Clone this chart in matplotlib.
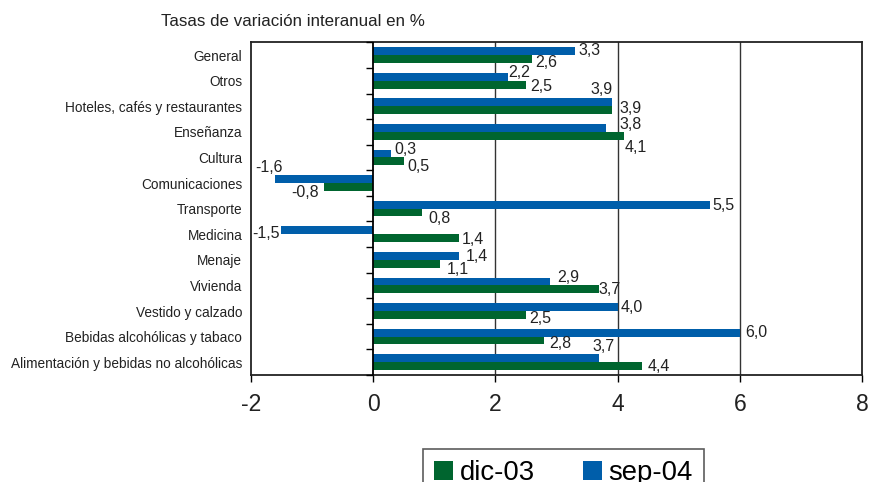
import numpy as np
import matplotlib
matplotlib.use("Agg")
import matplotlib.pyplot as plt
from matplotlib.patches import Patch

plt.rcParams["font.family"] = ["Liberation Sans", "DejaVu Sans"]

categorias = [
    "General",
    "Otros",
    "Hoteles, cafés y restaurantes",
    "Enseñanza",
    "Cultura",
    "Comunicaciones",
    "Transporte",
    "Medicina",
    "Menaje",
    "Vivienda",
    "Vestido y calzado",
    "Bebidas alcohólicas y tabaco",
    "Alimentación y bebidas no alcohólicas",
]
dic_03 = [2.6, 2.5, 3.9, 4.1, 0.5, -0.8, 0.8, 1.4, 1.1, 3.7, 2.5, 2.8, 4.4]
sep_04 = [3.3, 2.2, 3.9, 3.8, 0.3, -1.6, 5.5, -1.5, 1.4, 2.9, 4.0, 6.0, 3.7]
x_ticks = [-2, 0, 2, 4, 6, 8]

VERDE = "#00652F"
AZUL = "#005EAA"

# desplazamiento de cada etiqueta (pixeles, dx, dy, alineacion) como en el original
pos_sep = [(4, 1, "left"), (1, 4, "left"), (1, 13, "right"), (14, 3, "left"),
           (3, 4, "left"), (8, 12, "right"), (3, -1, "left"), (-2, -3, "right"),
           (7, -1, "left"), (7, 4, "left"), (3, 0, "left"), (5, 0, "left"),
           (-7, 12, "left")]
pos_dic = [(3, -3, "left"), (4, -2, "left"), (8, 2, "left"), (1, -12, "left"),
           (4, -5, "left"), (-5, -6, "right"), (6, -6, "left"), (3, -1, "left"),
           (6, -6, "left"), (-1, 0, "left"), (3, -4, "left"), (5, -3, "left"),
           (5, 0, "left")]


def fmt(v):
    return f"{v:.1f}".replace(".", ",")


fig = plt.figure(figsize=(8.69, 4.82), dpi=100)
ax = fig.add_axes([0.2885, 0.222, 0.704, 0.6902])

y = np.arange(len(categorias))
h = 0.305
ax.barh(y - h / 2, sep_04, height=h, color=AZUL, zorder=3)
ax.barh(y + h / 2, dic_03, height=h, color=VERDE, zorder=3)

for yi, v, (dx, dy, ha) in zip(y, sep_04, pos_sep):
    ax.annotate(fmt(v), (v, yi - h / 2), xytext=(dx, dy), textcoords="offset pixels",
                ha=ha, va="center", fontsize=11.5, color="#222222", zorder=4)
for yi, v, (dx, dy, ha) in zip(y, dic_03, pos_dic):
    ax.annotate(fmt(v), (v, yi + h / 2), xytext=(dx, dy), textcoords="offset pixels",
                ha=ha, va="center", fontsize=11.5, color="#222222", zorder=4)

ax.set_xlim(-2, 8)
ax.set_ylim(len(categorias) - 0.5, -0.5)
ax.set_xticks(x_ticks)
ax.set_xticklabels([str(t) for t in x_ticks], fontsize=16.5, color="#222222")
ax.tick_params(axis="x", direction="out", length=5, width=1, pad=8)
ax.set_yticks(y)
ax.set_yticklabels(categorias, fontsize=9.8, color="#222222")
ax.tick_params(axis="y", length=0, pad=6)

for g in [2, 4, 6]:
    ax.axvline(g, color="#333333", lw=1, zorder=1)
ax.axvline(0, color="black", lw=1.3, zorder=4)
bordes = np.arange(len(categorias) + 1) - 0.5
ax.plot(np.zeros(len(bordes)), bordes, ls="none", marker=0, ms=5,
        mew=1, color="black", zorder=4, clip_on=False)

for s in ax.spines.values():
    s.set_color("#222222")
    s.set_linewidth(1.3)

fig.text(161 / 869, 1 - 21 / 482, "Tasas de variación interanual en %",
         fontsize=12.2, color="#222222", va="center", ha="left")

handles = [Patch(facecolor=VERDE, label="dic-03"), Patch(facecolor=AZUL, label="sep-04")]
leg = fig.legend(handles=handles, loc="upper left",
                 bbox_to_anchor=(423 / 869, 1 - 449 / 482), ncol=2, fontsize=19.8,
                 frameon=True, fancybox=False, edgecolor="#333333",
                 handlelength=0.68, handleheight=0.68, handletextpad=0.25,
                 columnspacing=1.75, borderpad=0.4, borderaxespad=0)
leg.get_frame().set_linewidth(1.2)

fig.savefig("out.png", dpi=100)
